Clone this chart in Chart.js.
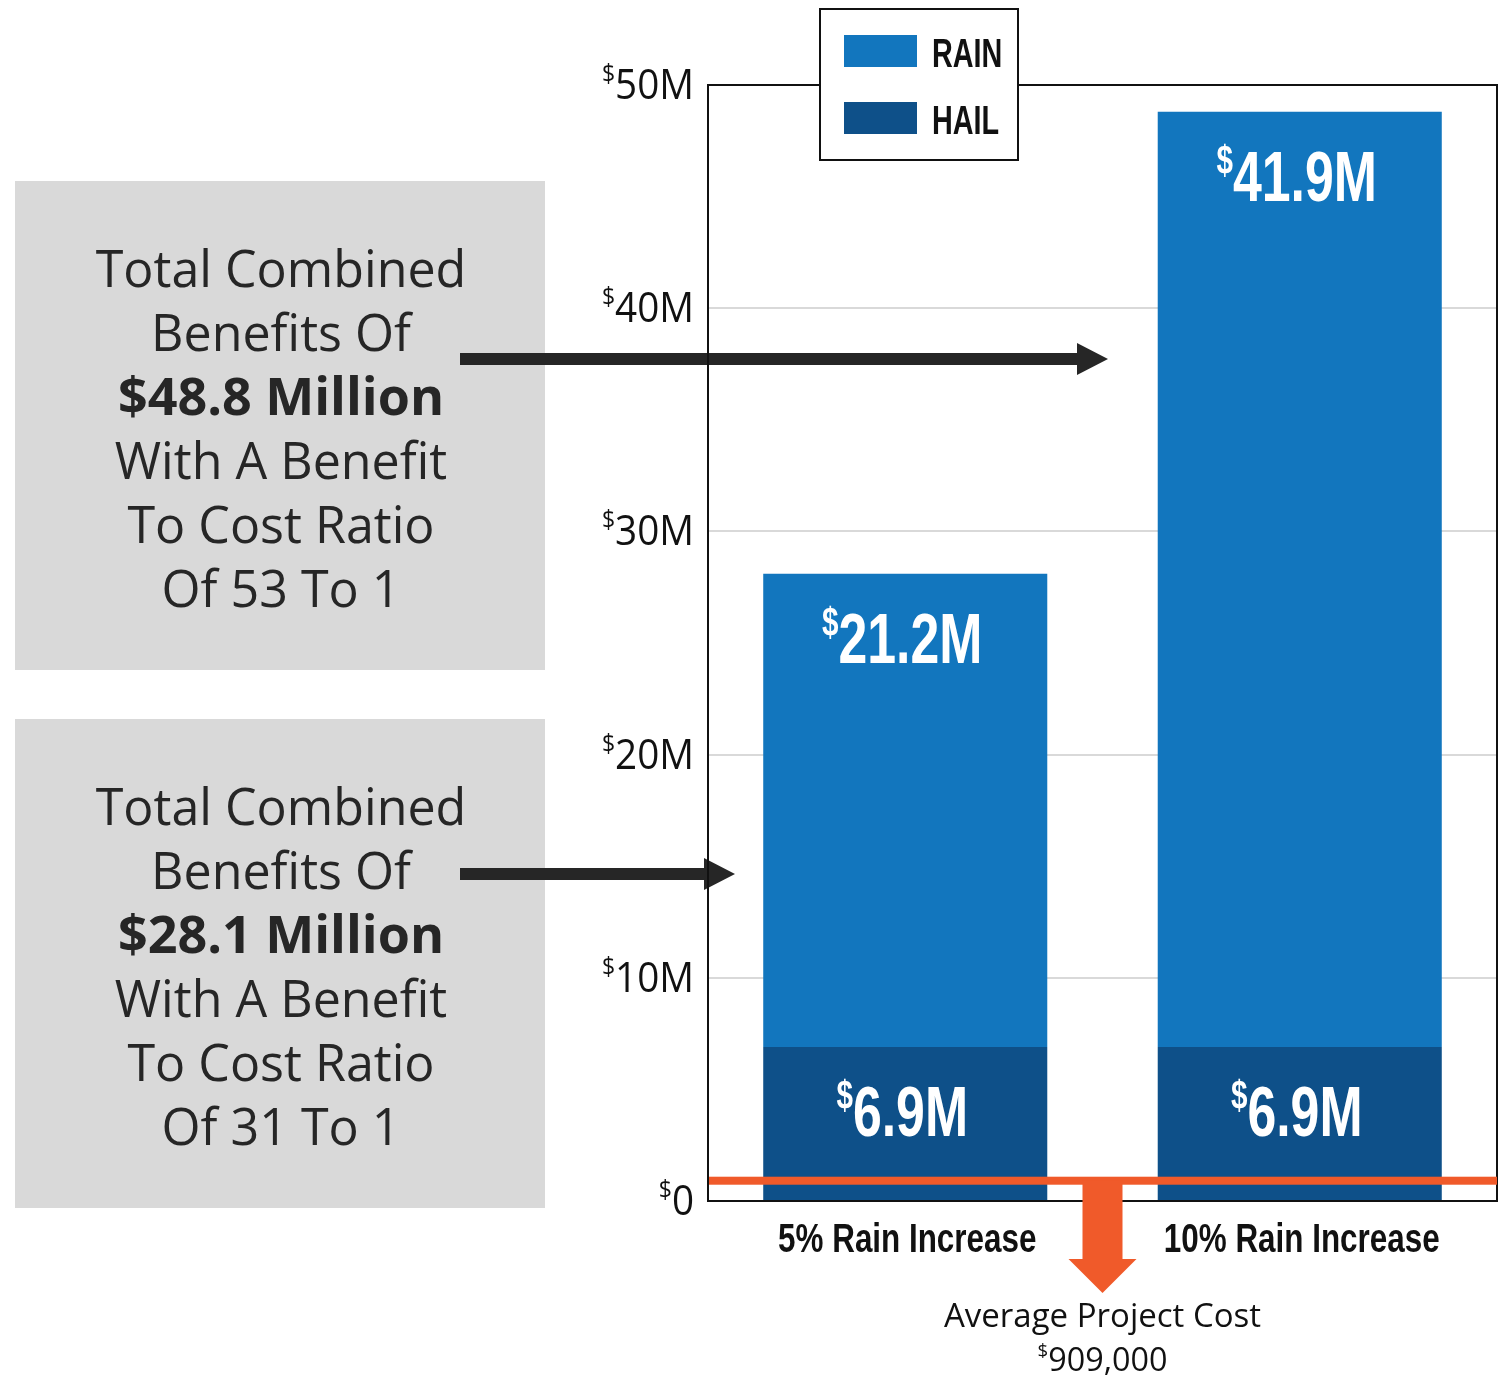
<!DOCTYPE html>
<html>
<head>
<meta charset="utf-8">
<script src="https://cdn.jsdelivr.net/npm/chart.js@4.4.1/dist/chart.umd.min.js"></script>
<style>
  html, body { margin: 0; padding: 0; background: #fff; }
  canvas { display: block; }
</style>
</head>
<body>
<canvas id="myChart" width="1504" height="1376"></canvas>
<script>
'use strict';
// data ($ millions)
var categories = ['5% Rain Increase', '10% Rain Increase'];
var hailValues = [6.9, 6.9];
var rainValues = [21.2, 41.9];
var yTicks = [0, 10, 20, 30, 40, 50];
var projectCost = 0.909;
var projectCostLabel = '909,000';
var calloutTop = ['Total Combined', 'Benefits Of', '$48.8 Million', 'With A Benefit', 'To Cost Ratio', 'Of 53 To 1'];
var calloutBottom = ['Total Combined', 'Benefits Of', '$28.1 Million', 'With A Benefit', 'To Cost Ratio', 'Of 31 To 1'];

var rainColor = '#1276be';
var hailColor = '#0e5089';
var orange = '#f05a2a';
var textDark = '#262626';
var sans = '"Open Sans", "Noto Sans", sans-serif';
var narrow = '"Liberation Sans", Arial, sans-serif';

function drawMoney(c, txt, x, y, o) {
    var supFont = o.weight + ' ' + o.supSize + 'px ' + o.family;
    var mainFont = o.weight + ' ' + o.size + 'px ' + o.family;
    c.save();
    c.fillStyle = o.color;
    c.textBaseline = 'alphabetic';
    c.textAlign = 'left';
    c.font = supFont;
    var wS = c.measureText('$').width;
    c.font = mainFont;
    var wT = c.measureText(txt).width;
    var total = (wS + wT) * o.sx;
    var x0 = x;
    if (o.align === 'right') x0 = x - total;
    if (o.align === 'center') x0 = x - total / 2;
    c.translate(x0, y);
    c.scale(o.sx, 1);
    c.font = supFont;
    c.fillText('$', 0, -o.supRise);
    c.font = mainFont;
    c.fillText(txt, wS, 0);
    c.restore();
}

function drawText(c, txt, x, y, font, color, sx) {
    c.save();
    c.font = font;
    c.fillStyle = color;
    c.textBaseline = 'alphabetic';
    c.textAlign = 'left';
    var w = c.measureText(txt).width * sx;
    c.translate(x - w / 2, y);
    c.scale(sx, 1);
    c.fillText(txt, 0, 0);
    c.restore();
}

function drawCallout(c, lines, top, arrowY, arrowTip) {
    c.fillStyle = '#d9d9d9';
    c.fillRect(15, top, 530, 489);
    lines.forEach(function(line, i) {
        var bold = line.indexOf('$') === 0;
        var font = (bold ? '700 ' : '400 ') + '52px ' + sans;
        drawText(c, line, 281, top + 106 + i * 64, font, textDark, bold ? 1.0 : 0.965);
    });
    // arrow
    c.fillStyle = textDark;
    c.fillRect(460, arrowY - 6, arrowTip - 31 - 460, 12);
    c.beginPath();
    c.moveTo(arrowTip - 31, arrowY - 16);
    c.lineTo(arrowTip, arrowY);
    c.lineTo(arrowTip - 31, arrowY + 16);
    c.closePath();
    c.fill();
}

var overlay = {
    id: 'overlay',
    afterDraw: function(chart) {
        var c = chart.ctx;
        var a = chart.chartArea;
        var ys = chart.scales.y;
        var xs = chart.scales.x;

        drawCallout(c, calloutTop, 181, 359, 1108);
        drawCallout(c, calloutBottom, 719, 874, 735);

        // bar value labels
        [0, 1].forEach(function(d) {
            var vals = d === 0 ? hailValues : rainValues;
            chart.getDatasetMeta(d).data.forEach(function(bar, i) {
                drawMoney(c, vals[i] + 'M', bar.x - 3, bar.y + 89, {
                    family: narrow, weight: '700', size: 70, supSize: 40, supRise: 27,
                    sx: 0.74, align: 'center', color: '#ffffff'
                });
            });
        });

        // frame
        c.strokeStyle = '#111';
        c.lineWidth = 2;
        c.strokeRect(a.left, a.top, a.right - a.left, a.bottom - a.top);

        // average project cost line and arrow
        var yc = ys.getPixelForValue(projectCost);
        c.fillStyle = orange;
        c.fillRect(a.left + 1, yc - 4, a.right - a.left - 1, 8);
        var mx = (xs.getPixelForValue(0) + xs.getPixelForValue(1)) / 2;
        c.fillRect(mx - 20, yc, 40, 1260 - yc);
        c.beginPath();
        c.moveTo(mx - 34, 1259);
        c.lineTo(mx + 34, 1259);
        c.lineTo(mx, 1293);
        c.closePath();
        c.fill();
        drawText(c, 'Average Project Cost', mx, 1327, '400 33px ' + sans, '#111', 1.0);
        drawMoney(c, projectCostLabel, mx, 1371, {
            family: sans, weight: '400', size: 33, supSize: 19, supRise: 14,
            sx: 0.98, align: 'center', color: '#111'
        });

        // y tick labels
        yTicks.forEach(function(t) {
            drawMoney(c, t === 0 ? '0' : t + 'M', 694, ys.getPixelForValue(t) + 14, {
                family: sans, weight: '400', size: 42, supSize: 25, supRise: 17,
                sx: 0.92, align: 'right', color: '#111'
            });
        });

        // category labels
        categories.forEach(function(cat, i) {
            drawText(c, cat, xs.getPixelForValue(i) + 2, a.bottom + 51, '700 40px ' + narrow, '#111', 0.785);
        });

        // legend
        c.fillStyle = '#fff';
        c.fillRect(820, 9, 198, 151);
        c.strokeStyle = '#111';
        c.lineWidth = 2;
        c.strokeRect(820, 9, 198, 151);
        c.fillStyle = rainColor;
        c.fillRect(844, 35, 73, 32);
        c.fillStyle = hailColor;
        c.fillRect(844, 102, 73, 32);
        c.save();
        c.fillStyle = '#111';
        c.font = '700 40px ' + narrow;
        c.translate(932, 0);
        c.scale(0.72, 1);
        c.fillText('RAIN', 0, 67);
        c.fillText('HAIL', 0, 134);
        c.restore();
    }
};

var ctx = document.getElementById('myChart').getContext('2d');
var myChart = new Chart(ctx, {
    type: 'bar',
    data: {
        labels: categories,
        datasets: [{
            label: 'HAIL',
            data: hailValues,
            backgroundColor: hailColor,
            borderWidth: 0
        }, {
            label: 'RAIN',
            data: rainValues,
            backgroundColor: rainColor,
            borderWidth: 0
        }]
    },
    options: {
        responsive: false,
        animation: false,
        devicePixelRatio: 1,
        layout: {
            padding: { left: 708, right: 7, top: 85, bottom: 175 }
        },
        datasets: {
            bar: { barPercentage: 0.72, categoryPercentage: 1 }
        },
        plugins: {
            legend: { display: false },
            tooltip: { enabled: false }
        },
        scales: {
            x: {
                stacked: true,
                display: false
            },
            y: {
                stacked: true,
                min: 0,
                max: 50,
                afterFit: function(s) { s.width = 0; },
                ticks: { display: false, stepSize: 10 },
                grid: { color: '#d9d9d9', lineWidth: 2, drawTicks: false },
                border: { display: false }
            }
        }
    },
    plugins: [overlay]
});
</script>
</body>
</html>
